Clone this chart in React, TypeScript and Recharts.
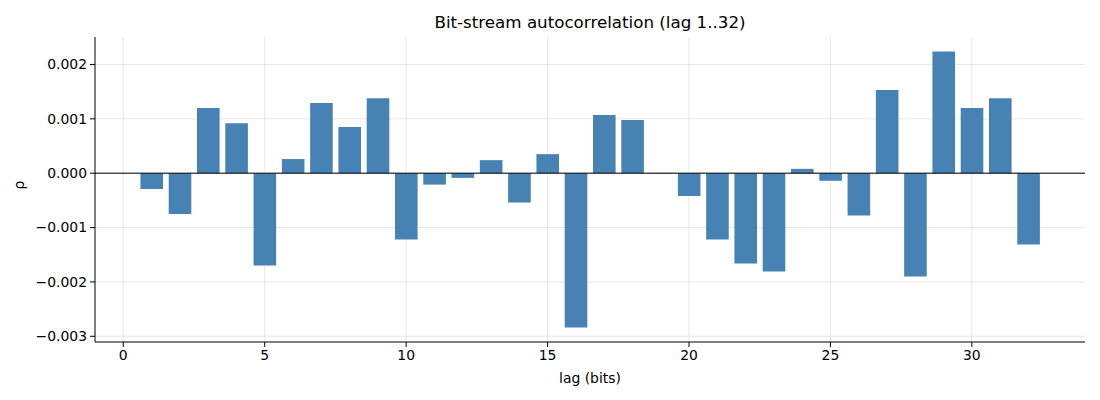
import { BarChart, Bar, XAxis, YAxis, CartesianGrid, ReferenceLine, Label } from "recharts"

// autocorrelation per lag
const lags = [
  1, 2, 3, 4, 5, 6, 7, 8, 9, 10, 11, 12, 13, 14, 15, 16,
  17, 18, 19, 20, 21, 22, 23, 24, 25, 26, 27, 28, 29, 30, 31, 32,
]
const rho = [
  -0.00029, -0.00075, 0.0012, 0.00092, -0.0017, 0.00026, 0.00129, 0.00085,
  0.00138, -0.00122, -0.00021, -0.000086, 0.00024, -0.00054, 0.00035, -0.00284,
  0.00107, 0.00098, 0.000005, -0.00042, -0.00122, -0.00166, -0.00181, 0.00008,
  -0.00014, -0.00078, 0.00153, -0.0019, 0.00224, 0.0012, 0.00138, -0.00131,
]
const xTicks = [0, 5, 10, 15, 20, 25, 30]
const yTicks = [-0.003, -0.002, -0.001, 0, 0.001, 0.002]

const font = "DejaVu Sans, sans-serif"

export default function App() {
  const chartData = lags.map((lag, i) => ({ lag, rho: rho[i] }))

  return (
    <div style={{ position: "absolute", left: 0, top: 0, width: 1100, height: 400, background: "#fff", fontFamily: font }}>
      <div
        style={{
          position: "absolute",
          top: 12,
          left: 95,
          width: 990,
          textAlign: "center",
          fontSize: 16.7,
          color: "#000",
        }}
      >
        Bit-stream autocorrelation (lag 1..32)
      </div>
      <BarChart
        width={1100}
        height={400}
        data={chartData}
        margin={{ top: 37, right: 15, bottom: 0, left: 0 }}
        barGap={0}
      >
        <XAxis
          dataKey="lag"
          type="number"
          domain={[-1, 34]}
          ticks={xTicks}
          allowDataOverflow
          height={58}
          tickSize={5}
          tickMargin={3}
          stroke="#000"
          tick={{ fontSize: 13.9, fill: "#000", fontFamily: font }}
        >
          <Label value="lag (bits)" position="insideBottom" offset={17} style={{ fontSize: 13.9, fill: "#000", fontFamily: font }} />
        </XAxis>
        <YAxis
          type="number"
          domain={[-0.003105, 0.002505]}
          ticks={yTicks}
          allowDataOverflow
          width={95}
          tickSize={5}
          tickMargin={3}
          stroke="#000"
          tickFormatter={(v: number) => v.toFixed(3).replace("-", "\u2212")}
          tick={{ fontSize: 13.9, fill: "#000", fontFamily: font }}
        >
          <Label value="ρ" angle={-90} position="insideLeft" offset={19} style={{ fontSize: 13.9, fill: "#000", fontFamily: font }} />
        </YAxis>
        <Bar dataKey="rho" fill="#4682b4" barSize={22.6} isAnimationActive={false} />
        <CartesianGrid stroke="#b0b0b0" strokeOpacity={0.3} horizontalValues={yTicks} verticalValues={xTicks} />
        <ReferenceLine y={0} stroke="#000" strokeWidth={1} />
      </BarChart>
    </div>
  )
}
